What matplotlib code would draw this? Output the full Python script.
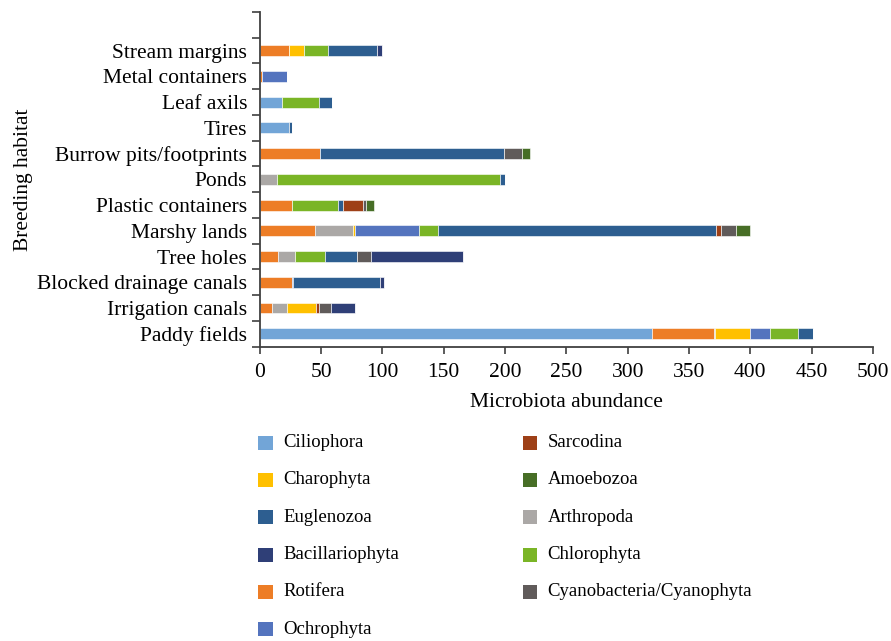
#!/usr/bin/env python3
"""Stacked microbiota abundance per mosquito breeding habitat."""

from __future__ import annotations

import matplotlib

matplotlib.use("Agg")

import matplotlib.pyplot as plt
from matplotlib.patches import Rectangle

# bottom-to-top order of the bars
HABITATS = [
    "Paddy fields",
    "Irrigation canals",
    "Blocked drainage canals",
    "Tree holes",
    "Marshy lands",
    "Plastic containers",
    "Ponds",
    "Burrow pits/footprints",
    "Tires",
    "Leaf axils",
    "Metal containers",
    "Stream margins",
]

CILIOPHORA = [320, 0, 0, 0, 0, 0, 0, 0, 24, 18, 0, 0]
ROTIFERA = [50, 10, 26, 15, 45, 26, 0, 49, 0, 0, 2, 24]
ARTHROPODA = [1, 12, 0, 14, 31, 0, 14, 0, 0, 0, 0, 0]
CHAROPHYTA = [29, 24, 0, 0, 2, 0, 0, 0, 0, 0, 0, 12]
OCHROPHYTA = [16, 0, 1, 0, 52, 0, 0, 0, 0, 0, 20, 0]
CHLOROPHYTA = [23, 0, 0, 24, 15, 38, 182, 0, 0, 30, 0, 20]
EUGLENOZOA = [12, 0, 71, 26, 227, 4, 4, 150, 2, 11, 0, 40]
SARCODINA = [0, 2, 0, 0, 4, 16, 0, 0, 0, 0, 0, 0]
CYANOBACTERIA = [0, 10, 0, 12, 12, 3, 0, 15, 0, 0, 0, 0]
BACILLARIOPHYTA = [0, 20, 3, 75, 0, 0, 0, 0, 0, 0, 0, 4]
AMOEBOZOA = [0, 0, 0, 0, 12, 6, 0, 6, 0, 0, 0, 0]

# stacking order, left to right within a bar
STACK = [
    ("Ciliophora", CILIOPHORA, "#72a5d7"),
    ("Rotifera", ROTIFERA, "#ed7d26"),
    ("Arthropoda", ARTHROPODA, "#aba8a6"),
    ("Charophyta", CHAROPHYTA, "#ffc000"),
    ("Ochrophyta", OCHROPHYTA, "#5474be"),
    ("Chlorophyta", CHLOROPHYTA, "#7ab526"),
    ("Euglenozoa", EUGLENOZOA, "#2d5e90"),
    ("Sarcodina", SARCODINA, "#9e4017"),
    ("Cyanobacteria/Cyanophyta", CYANOBACTERIA, "#605b5a"),
    ("Bacillariophyta", BACILLARIOPHYTA, "#2f3f77"),
    ("Amoebozoa", AMOEBOZOA, "#476e26"),
]

LEGEND_ORDER = [
    "Ciliophora", "Charophyta", "Euglenozoa", "Bacillariophyta", "Rotifera", "Ochrophyta",
    "Sarcodina", "Amoebozoa", "Arthropoda", "Chlorophyta", "Cyanobacteria/Cyanophyta",
]

W, H = 891, 641
FONT = ["Liberation Serif", "DejaVu Serif"]
AX_FS = 15.5
LEG_FS = 13.5


def draw_bars(ax) -> None:
    left = [0.0] * len(HABITATS)
    ypos = list(range(len(HABITATS)))
    for name, vals, color in STACK:
        ax.barh(ypos, vals, left=left, height=0.42, color=color, edgecolor="white",
                linewidth=0.4, label=name)
        left = [a + b for a, b in zip(left, vals)]
    ax.set_xlim(0, 500)
    ax.set_ylim(-0.5, len(HABITATS) + 0.5)
    ax.set_xticks(range(0, 501, 50))
    ax.set_yticks(ypos)
    ax.set_yticklabels(HABITATS)
    ax.set_yticks([i - 0.5 for i in range(len(HABITATS) + 2)], minor=True)
    ax.tick_params(axis="y", which="major", length=0, pad=9, labelsize=AX_FS)
    ax.tick_params(axis="y", which="minor", length=6, width=1.2, color="#404040")
    ax.tick_params(axis="x", length=5, width=1.2, color="#404040", pad=7, labelsize=AX_FS)
    for side in ("top", "right"):
        ax.spines[side].set_visible(False)
    for side in ("left", "bottom"):
        ax.spines[side].set_linewidth(1.3)
        ax.spines[side].set_color("#404040")
    ax.set_xlabel("Microbiota abundance", fontsize=AX_FS, labelpad=8)
    ax.set_ylabel("Breeding habitat", fontsize=AX_FS)
    ax.yaxis.set_label_coords((33 - 259.7) / (873 - 259.7), 0.5)


def draw_legend(fig) -> None:
    colors = {name: color for name, _, color in STACK}
    col_x = [258.3, 522.7]
    for i, name in enumerate(LEGEND_ORDER):
        col, row = divmod(i, 6)
        yc = 442.7 + row * 37.3
        x0 = col_x[col]
        fig.add_artist(Rectangle((x0 / W, 1 - (yc + 7) / H), 14.5 / W, 14 / H,
                                 transform=fig.transFigure, color=colors[name], linewidth=0))
        fig.text((x0 + 25) / W, 1 - yc / H, name, fontsize=LEG_FS, va="center", ha="left")


def main() -> None:
    plt.rcParams["font.family"] = FONT
    fig = plt.figure(figsize=(W / 100, H / 100), dpi=100)
    ax = fig.add_axes([259.7 / W, 1 - 346.7 / H, (873 - 259.7) / W, (346.7 - 12) / H])
    draw_bars(ax)
    draw_legend(fig)
    fig.savefig("out.png", dpi=100)
    plt.close(fig)


if __name__ == "__main__":
    main()
